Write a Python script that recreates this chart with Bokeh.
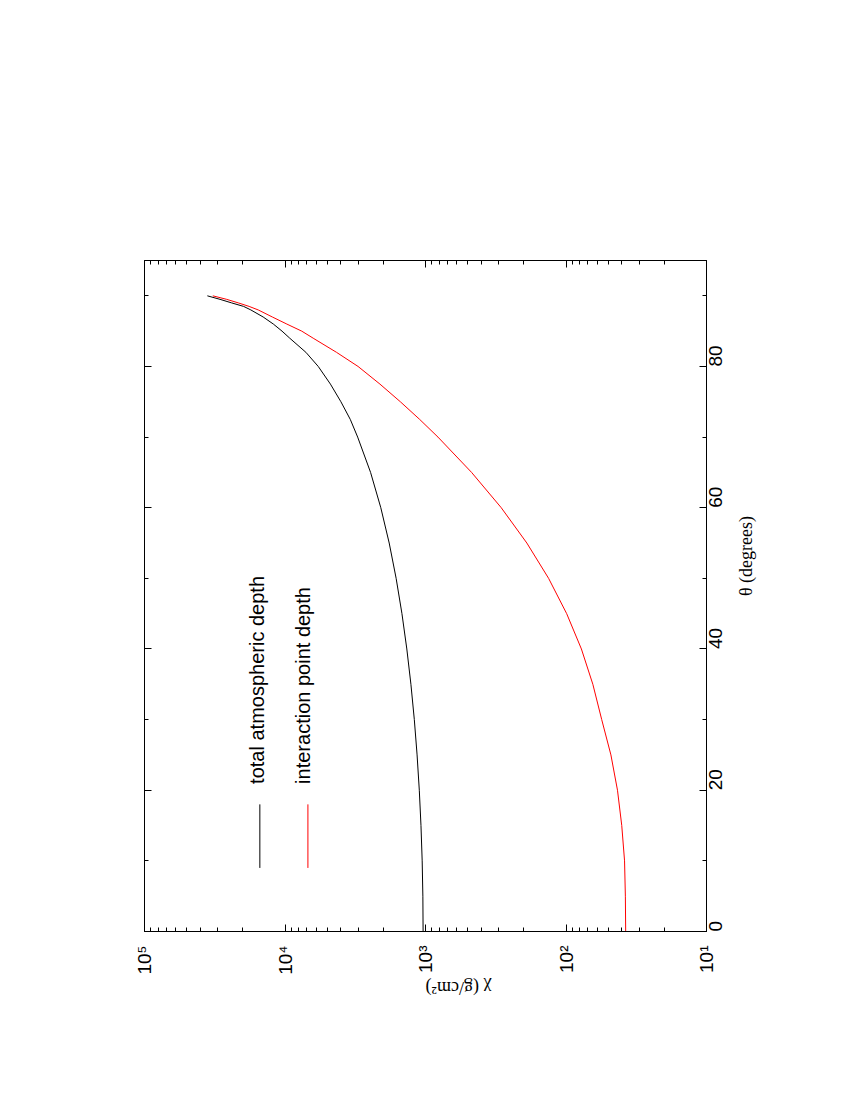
import math
from bokeh.plotting import figure
from bokeh.models import Range1d, LogAxis, LinearAxis, FixedTicker, Label, Arrow, Axis
from bokeh.embed import file_html
from bokeh.resources import INLINE

# ---- data ----
theta = [0, 5, 10, 15, 20, 25, 30, 35, 40, 45, 50, 55, 60, 65, 70, 72.5, 75,
         77.5, 80, 82, 84, 85, 86, 87, 88, 88.5, 89, 89.5, 90]
chi_total = [1040, 1044, 1056, 1077, 1107, 1148, 1201, 1270, 1358, 1471, 1618,
             1813, 2080, 2460, 3040, 3430, 4000, 4750, 5800, 7100, 9250, 10500,
             12100, 14300, 17500, 19700, 24000, 29000, 35700]
chi_interaction = [37.6, 37.8, 38.3, 40.1, 43.0, 47.9, 55.7, 64.4, 77.7, 98.9,
                   133, 190, 289, 470, 815, 1100, 1510, 2110, 3020, 4300, 6300,
                   7600, 9700, 12300, 15500, 18000, 21500, 26000, 32650]

series_labels = ["total atmospheric depth", "interaction point depth"]
series_colors = ["black", "red"]

chi_ticks = [1e1, 1e2, 1e3, 1e4, 1e5]
chi_tick_labels = ["10\u00b9", "10\u00b2", "10\u00b3", "10\u2074", "10\u2075"]
theta_ticks = [0, 20, 40, 60, 80]

x_title = "\u03b8 (degrees)"
y_title = "\u03c7 (g/cm\u00b2)"

# ---- figure ----
p = figure(width=834, height=1084, x_axis_type="log",
           x_range=Range1d(1e5, 1e1), y_range=Range1d(0, 95),
           y_axis_location="right", output_backend="svg", toolbar_location=None,
           min_border_left=144, min_border_right=128,
           min_border_top=260, min_border_bottom=153)
p.xgrid.visible = False
p.ygrid.visible = False
p.outline_line_color = "black"
p.background_fill_color = "white"
p.border_fill_color = "white"

chi_ticker = FixedTicker(ticks=chi_ticks,
                         minor_ticks=[m * t for t in chi_ticks[:-1] for m in range(2, 10)])
theta_ticker = FixedTicker(ticks=theta_ticks, minor_ticks=[t + 10 for t in theta_ticks])


def style(ax, show):
    ax.major_tick_in = 7
    ax.major_tick_out = 0
    ax.minor_tick_in = 4
    ax.minor_tick_out = 0
    ax.axis_line_color = "black"
    ax.major_tick_line_color = "black"
    ax.minor_tick_line_color = "black"
    ax.major_label_text_font = "Liberation Sans"
    ax.major_label_text_font_size = "19px"
    ax.major_label_orientation = math.pi / 2
    ax.axis_label_text_font = "Liberation Serif"
    ax.axis_label_text_font_size = "18px"
    ax.axis_label_text_font_style = "normal"
    ax.axis_label_text_color = "black"
    if show:
        ax.major_label_text_color = "black"
    else:
        ax.major_label_text_color = None
        ax.major_label_standoff = 0


has_orient = "axis_label_orientation" in Axis.properties()

xa = p.xaxis[0]
xa.ticker = chi_ticker
xa.major_label_overrides = {int(v): s for v, s in zip(chi_ticks, chi_tick_labels)}
style(xa, True)
xa.major_label_standoff = 14
xa.axis_label = y_title
xa.axis_label_standoff = 10
if has_orient:
    xa.axis_label_orientation = math.pi

ya = p.yaxis[0]
ya.ticker = theta_ticker
style(ya, True)
ya.major_label_standoff = 9
ya.axis_label = x_title
ya.axis_label_standoff = 14
if has_orient:
    ya.axis_label_orientation = -1.5 * math.pi

top = LogAxis(ticker=chi_ticker)
style(top, False)
p.add_layout(top, "above")
left = LinearAxis(ticker=theta_ticker)
style(left, False)
p.add_layout(left, "left")

# ---- curves ----
p.line(chi_total, theta, line_color=series_colors[0], line_width=1)
p.line(chi_interaction, theta, line_color=series_colors[1], line_width=1)

# ---- rotated key ----
key_text_x = [15920, 7430]
key_line_x = [15100, 6870]
for lab, col, tx, lx in zip(series_labels, series_colors, key_text_x, key_line_x):
    p.add_layout(Label(x=tx, y=20.9, text=lab, angle=math.pi / 2,
                       text_align="left", text_baseline="middle",
                       text_font="Liberation Sans", text_font_size="20px",
                       text_color="black"))
    p.add_layout(Arrow(x_start=lx, y_start=9.0, x_end=lx, y_end=18.0,
                       start=None, end=None, line_color=col, line_width=1))

open("out.html", "w").write(file_html(p, INLINE))
